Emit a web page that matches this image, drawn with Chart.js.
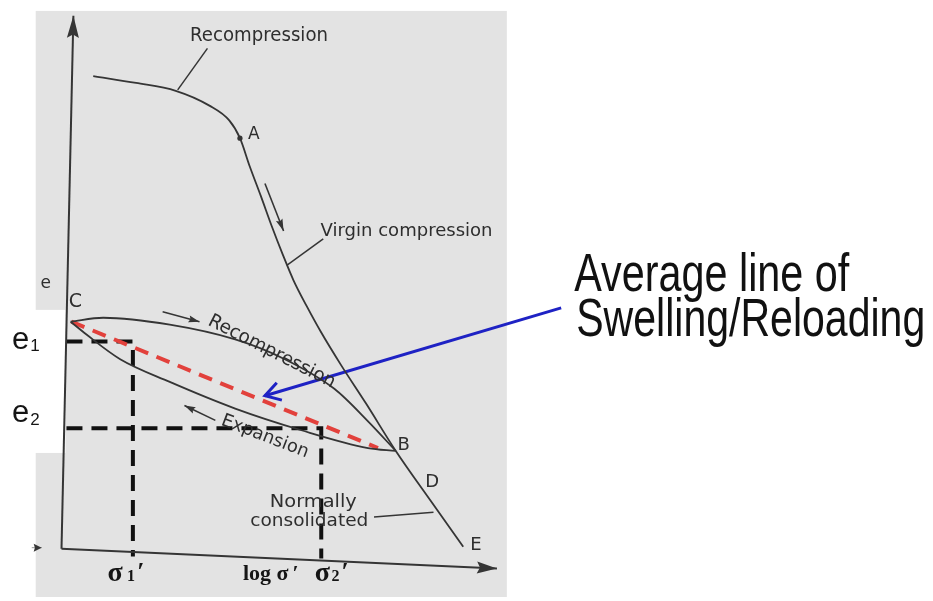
<!DOCTYPE html>
<html>
<head>
<meta charset="utf-8">
<script src="https://cdn.jsdelivr.net/npm/chart.js@4.4.1/dist/chart.umd.min.js"></script>
<style>
  html, body { margin: 0; padding: 0; background: #ffffff; }
  #wrap { width: 933px; height: 601px; position: relative; }
</style>
</head>
<body>
<div id="wrap"><canvas id="c"></canvas></div>
<script>
// ---------- DATA (x = log σ′ units, y = void ratio e units) ----------
// Virgin / recompression curve: Recompression -> A -> Virgin compression -> B -> D -> E
const mainLogS = [0.75, 1.83, 2.83, 3.68, 4.18, 4.45, 4.7, 4.98, 5.25, 5.53, 5.8, 6.13, 6.5, 7.0, 7.63, 8.38, 9.25, 10.08];
const mainE    = [9.64, 9.50, 9.34, 9.04, 8.74, 8.38, 7.8, 7.2, 6.6, 6.02, 5.5, 4.98, 4.44, 3.78, 3.0, 2.04, 1.04, 0.1];
// Reloading (recompression) branch C -> B
const reloadLogS = [0.18, 1.0, 2.68, 4.33, 5.58, 6.83, 7.68, 8.38];
const reloadE    = [4.66, 4.74, 4.60, 4.30, 3.90, 3.30, 2.64, 2.04];
// Swelling (expansion) branch, listed C -> B
const swellLogS = [0.18, 0.58, 1.43, 2.68, 4.33, 6.0, 7.68, 8.38];
const swellE    = [4.66, 4.40, 3.90, 3.44, 2.90, 2.46, 2.10, 2.04];
// Average line of swelling / reloading (C to near B)
const avgLogS = [0.2, 7.93];
const avgE    = [4.66, 2.10];
// Read-off values
const e1 = 4.26, e2 = 2.5;
const sigma1 = 1.75, sigma2 = 6.5;
const eAxisStart = 0.075;
const sigmaAxis1 = -0.1, sigmaAxis2 = -0.14;
// Point A
const pointA = [4.45, 8.38];

const pts = (xs, ys) => xs.map((x, i) => ({ x, y: ys[i] }));

// ---------- helpers / styling ----------
const INK = '#353535';
const lineDs = (data, extra) => Object.assign({
  data, showLine: true, pointRadius: 0, borderColor: INK, borderWidth: 1.8,
  tension: 0, fill: false
}, extra || {});

const datasets = [
  // axes (slightly skewed like the scanned figure)
  lineDs([{x:-0.05,y:0.06},{x:0.25,y:10.86}], {borderWidth: 2, arrow:{len:22,w:12}}),
  lineDs([{x:-0.05,y:0.06},{x:10.93,y:-0.34}], {borderWidth: 2, arrow:{len:20,w:12}}),
  lineDs([{x:-0.8,y:0.08},{x:-0.55,y:0.08}], {borderWidth: 0.5, arrow:{len:8,w:8}}),
  // main curve
  lineDs(pts(mainLogS, mainE), {cubicInterpolationMode:'monotone'}),
  // loop
  lineDs(pts(reloadLogS, reloadE), {cubicInterpolationMode:'monotone'}),
  lineDs(pts(swellLogS, swellE), {cubicInterpolationMode:'monotone'}),
  // average line (red dashed)
  lineDs(pts(avgLogS, avgE), {borderColor:'#e2413c', borderWidth:4, borderDash:[14,9]}),
  // e1 / e2 / σ1 / σ2 read-off lines
  lineDs([{x:eAxisStart,y:e1},{x:sigma1,y:e1},{x:sigma1,y:sigmaAxis1}], {borderColor:'#111', borderWidth:4, borderDash:[16,9]}),
  lineDs([{x:eAxisStart,y:e2},{x:sigma2,y:e2},{x:sigma2,y:sigmaAxis2}], {borderColor:'#111', borderWidth:4, borderDash:[16,9]}),
  // small direction arrows
  lineDs([{x:5.08,y:7.46},{x:5.55,y:6.5}], {borderWidth:1.6, arrow:{len:12,w:7}}),
  lineDs([{x:2.5,y:4.86},{x:3.43,y:4.66}], {borderWidth:1.6, arrow:{len:11,w:7}}),
  lineDs([{x:3.83,y:2.66},{x:3.05,y:2.96}], {borderWidth:1.6, arrow:{len:11,w:7}}),
  // leaders
  lineDs([{x:2.88,y:9.36},{x:3.63,y:10.2}], {borderWidth:1.5}),
  lineDs([{x:5.63,y:5.8},{x:6.55,y:6.34}], {borderWidth:1.5}),
  lineDs([{x:7.83,y:0.7},{x:9.33,y:0.8}], {borderWidth:1.5}),
  // blue pointer to average line
  lineDs([{x:12.55,y:4.94},{x:5.08,y:3.16}], {borderColor:'#1e22c4', borderWidth:3, arrow:{len:15,w:18,open:true,color:'#1e22c4'}}),
  // point A
  { data:[{x:pointA[0], y:pointA[1]}], showLine:false, pointRadius:2.6, pointBackgroundColor:INK, pointBorderWidth:0 }
];

// ---------- annotations (text) ----------
const SCAN = '"DejaVu Sans", sans-serif';
const SERIF = '"Liberation Serif", "Times New Roman", serif';
const ARIAL = '"Liberation Sans", Arial, sans-serif';
const texts = [
  {t:'Recompression', x:4.93, y:10.44, f:SCAN, s:19, w:138},
  {t:'A', x:4.8, y:8.46, f:SCAN, s:17},
  {t:'Virgin compression', x:8.65, y:6.5, f:SCAN, s:18, w:172},
  {t:'e', x:-0.45, y:5.44, f:SCAN, s:17},
  {t:'C', x:0.3, y:5.06, f:SCAN, s:19},
  {t:'Recompression', x:5.25, y:4.05, f:SCAN, s:19, w:140, rot:27},
  {t:'Expansion', x:5.08, y:2.33, f:SCAN, s:18, w:92, rot:21},
  {t:'B', x:8.58, y:2.16, f:SCAN, s:18},
  {t:'D', x:9.3, y:1.4, f:SCAN, s:18},
  {t:'E', x:10.4, y:0.12, f:SCAN, s:18},
  {t:'Normally', x:6.3, y:1.0, f:SCAN, s:17, w:87},
  {t:'consolidated', x:6.2, y:0.6, f:SCAN, s:17, w:118},
  {t:'e', x:-1.08, y:4.28, f:ARIAL, s:31, c:'#151515'},
  {t:'1', x:-0.72, y:4.16, f:ARIAL, s:17, c:'#151515'},
  {t:'e', x:-1.08, y:2.8, f:ARIAL, s:31, c:'#151515'},
  {t:'2', x:-0.72, y:2.66, f:ARIAL, s:17, c:'#151515'},
  {t:'σ', x:1.3, y:-0.44, f:SERIF, s:28, b:true, c:'#151515'},
  {t:'1', x:1.7, y:-0.52, f:SERIF, s:16, b:true, c:'#151515'},
  {t:'′', x:1.95, y:-0.58, f:SERIF, s:26, b:true, bl:'alphabetic', c:'#151515'},
  {t:'log σ', x:5.1, y:-0.46, f:SERIF, s:22, b:true, c:'#151515'},
  {t:'′', x:5.85, y:-0.58, f:SERIF, s:22, b:true, bl:'alphabetic', c:'#151515'},
  {t:'σ', x:6.53, y:-0.44, f:SERIF, s:28, b:true, c:'#151515'},
  {t:'2', x:6.86, y:-0.52, f:SERIF, s:16, b:true, c:'#151515'},
  {t:'′', x:7.1, y:-0.58, f:SERIF, s:26, b:true, bl:'alphabetic', c:'#151515'},
  {t:'Average line of', x:12.88, y:5.28, f:ARIAL, s:54, w:275, al:'left', bl:'alphabetic', c:'#111'},
  {t:'Swelling/Reloading', x:12.93, y:4.38, f:ARIAL, s:54, w:349, al:'left', bl:'alphabetic', c:'#111'}
];

// ---------- plugins ----------
const backdrop = {
  id: 'backdrop',
  beforeDatasetsDraw(chart) {
    const {ctx, scales:{x, y}} = chart;
    ctx.save();
    ctx.fillStyle = '#e3e3e3';
    const gx0 = x.getPixelForValue(-0.7), gx1 = x.getPixelForValue(11.18);
    const gy0 = y.getPixelForValue(10.96), gy1 = y.getPixelForValue(-0.92);
    ctx.fillRect(gx0, gy0, gx1 - gx0, gy1 - gy0);
    ctx.fillStyle = '#ffffff';
    const wx0 = x.getPixelForValue(-1.5), wx1 = x.getPixelForValue(0.05);
    const wy0 = y.getPixelForValue(4.9), wy1 = y.getPixelForValue(2.0);
    ctx.fillRect(wx0, wy0, wx1 - wx0, wy1 - wy0);
    ctx.restore();
  }
};

const arrows = {
  id: 'arrows',
  afterDatasetsDraw(chart) {
    const ctx = chart.ctx;
    chart.data.datasets.forEach((ds, i) => {
      if (!ds.arrow) return;
      const el = chart.getDatasetMeta(i).data;
      const a = el[el.length - 2], b = el[el.length - 1];
      const ang = Math.atan2(b.y - a.y, b.x - a.x);
      const {len, w, open} = ds.arrow;
      const col = ds.arrow.color || INK;
      ctx.save();
      ctx.translate(b.x, b.y);
      ctx.rotate(ang);
      ctx.beginPath();
      if (open) {
        ctx.moveTo(-len, -w / 2); ctx.lineTo(0, 0); ctx.lineTo(-len, w / 2);
        ctx.strokeStyle = col; ctx.lineWidth = 3; ctx.lineJoin = 'miter'; ctx.stroke();
      } else {
        ctx.moveTo(0, 0); ctx.lineTo(-len, -w / 2); ctx.lineTo(-len * 0.85, 0); ctx.lineTo(-len, w / 2);
        ctx.closePath(); ctx.fillStyle = col; ctx.fill();
      }
      ctx.restore();
    });
  }
};

const labels = {
  id: 'labels',
  afterDraw(chart) {
    const {ctx, scales:{x, y}} = chart;
    texts.forEach(L => {
      ctx.save();
      ctx.translate(x.getPixelForValue(L.x), y.getPixelForValue(L.y));
      if (L.rot) ctx.rotate(L.rot * Math.PI / 180);
      ctx.font = (L.b ? 'bold ' : '') + L.s + 'px ' + L.f;
      ctx.textAlign = L.al || 'center';
      ctx.textBaseline = L.bl || 'middle';
      if (L.w) { const m = ctx.measureText(L.t).width; ctx.scale(L.w / m, 1); }
      ctx.fillStyle = L.c || '#2e2e2e';
      ctx.fillText(L.t, 0, 0);
      ctx.restore();
    });
  }
};

new Chart(document.getElementById('c'), {
  type: 'scatter',
  data: { datasets },
  options: {
    responsive: true, maintainAspectRatio: false, animation: false,
    layout: { padding: 0 },
    plugins: { legend: { display: false }, tooltip: { enabled: false } },
    scales: {
      x: { type: 'linear', min: -1.5, max: 21.825, display: false },
      y: { type: 'linear', min: -0.92, max: 11.1, display: false }
    }
  },
  plugins: [backdrop, arrows, labels]
});
</script>
</body>
</html>
